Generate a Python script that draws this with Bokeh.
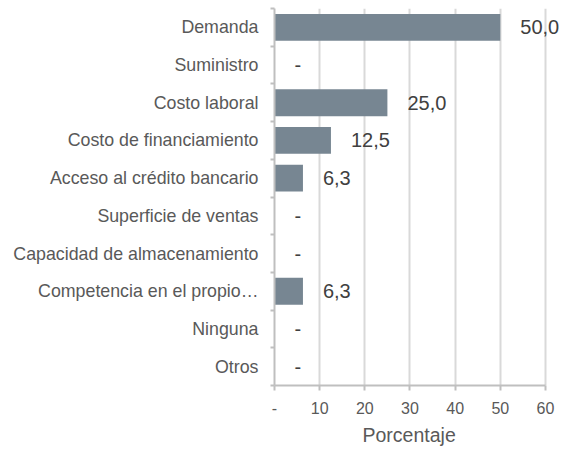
from bokeh.plotting import figure
from bokeh.models import ColumnDataSource, FixedTicker, Range1d, LabelSet, Title
from bokeh.core.properties import value
from bokeh.embed import file_html
from bokeh.resources import INLINE

categories = ["Demanda", "Suministro", "Costo laboral", "Costo de financiamiento",
              "Acceso al crédito bancario", "Superficie de ventas",
              "Capacidad de almacenamiento", "Competencia en el propio…",
              "Ninguna", "Otros"]
values = [50.0, 0.0, 25.0, 12.5, 6.3, 0.0, 0.0, 6.3, 0.0, 0.0]
x_ticks = [0, 10, 20, 30, 40, 50, 60]
x_title = "Porcentaje"

FONT = "Liberation Sans"
TXT = "#595959"
AX = "#bfbfbf"

n = len(categories)
ypos = [i + 0.5 for i in range(n)]
labels = ["-" if v == 0 else f"{v:.1f}".replace(".", ",") for v in values]
src = ColumnDataSource(dict(y=ypos, v=values, lab=labels))

# frame extends right of 60 so value labels are not clipped; axis stops at 60
p = figure(width=568, height=450, output_backend="svg", toolbar_location=None,
           x_range=Range1d(0, 65.1), y_range=Range1d(n, 0),
           min_border_left=274, min_border_right=0, min_border_top=8,
           min_border_bottom=64)
p.outline_line_color = None
p.background_fill_color = "white"

p.hbar(y="y", right="v", left=0, height=0.71, source=src,
       fill_color="#778692", line_color=None)

lbl = LabelSet(x="v", y="y", text="lab", source=src, x_offset=20,
               text_align="left", text_baseline="middle",
               text_font=value(FONT), text_font_size="20px", text_color="#404040")
p.add_layout(lbl)

# x axis
p.xaxis.ticker = FixedTicker(ticks=x_ticks)
p.xaxis.bounds = (x_ticks[0], x_ticks[-1])
p.xaxis.major_label_overrides = {0: "-"}
p.xaxis.major_label_text_font = FONT
p.xaxis.major_label_text_font_size = "16px"
p.xaxis.major_label_text_color = TXT
p.xaxis.major_label_standoff = 11
p.xaxis.axis_line_color = AX
p.xaxis.axis_line_width = 2
p.xaxis.major_tick_line_color = AX
p.xaxis.major_tick_line_width = 2
p.xaxis.major_tick_out = 5
p.xaxis.major_tick_in = 0
p.xaxis.minor_tick_line_color = None

# axis title, centred under the 0-60 span (not the wider frame)
t = Title(text=x_title, align="left", offset=88, standoff=10,
          text_font=FONT, text_font_size="19.5px", text_font_style="normal",
          text_color=TXT)
p.add_layout(t, "below")

# y axis
p.yaxis.ticker = FixedTicker(ticks=ypos, minor_ticks=list(range(n + 1)))
p.yaxis.major_label_overrides = {y: c for y, c in zip(ypos, categories)}
p.yaxis.major_label_text_font = FONT
p.yaxis.major_label_text_font_size = "17.8px"
p.yaxis.major_label_text_color = TXT
p.yaxis.major_label_standoff = 10
p.yaxis.major_tick_line_color = None
p.yaxis.minor_tick_line_color = AX
p.yaxis.minor_tick_line_width = 2
p.yaxis.minor_tick_out = 4
p.yaxis.minor_tick_in = 0
p.yaxis.axis_line_color = AX
p.yaxis.axis_line_width = 2

p.xgrid.grid_line_color = "#d9d9d9"
p.xgrid.grid_line_width = 2
p.ygrid.grid_line_color = None

open("out.html", "w").write(file_html(p, INLINE))
